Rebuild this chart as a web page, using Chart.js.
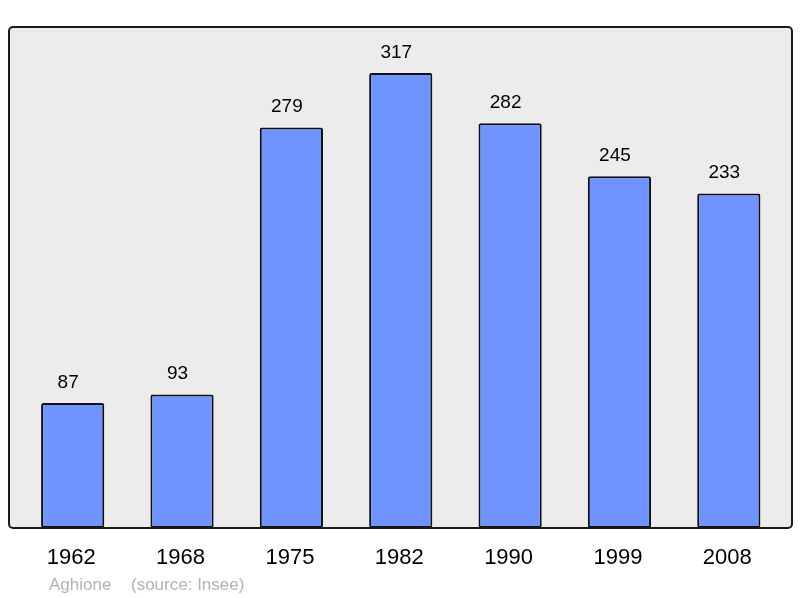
<!DOCTYPE html>
<html><head><meta charset="utf-8">
<script src="https://cdn.jsdelivr.net/npm/chart.js@4/dist/chart.umd.min.js"></script>
<style>html,body{margin:0;padding:0;background:#fff}#wrap{width:800px;height:598px}</style>
</head><body><div id="wrap"><canvas id="c" width="800" height="598"></canvas></div>
<script>
const years = ["1962","1968","1975","1982","1990","1999","2008"];
const population = [87,93,279,317,282,245,233];
const sourceName = "Aghione";
const sourceText = "(source: Insee)";

const FONT = "'Liberation Sans', Arial, sans-serif";

const bgPlugin = {
  id: 'bg',
  beforeDraw(chart) {
    const {ctx, chartArea: a} = chart;
    const x0 = a.left - 9, x1 = a.right + 8.5, y0 = a.top, y1 = a.bottom;
    ctx.save();
    ctx.beginPath();
    ctx.roundRect(x0, y0, x1 - x0, y1 - y0, 4);
    ctx.fillStyle = '#ececec';
    ctx.fill();
    ctx.restore();
  },
  afterDatasetsDraw(chart) {
    const {ctx, chartArea: a, scales} = chart;
    const x0 = a.left - 9, x1 = a.right + 8.5, y0 = a.top, y1 = a.bottom;
    ctx.save();
    ctx.beginPath();
    ctx.roundRect(x0, y0, x1 - x0, y1 - y0, 4);
    ctx.lineWidth = 2;
    ctx.strokeStyle = '#1a1a1a';
    ctx.stroke();
    ctx.fillStyle = '#000';
    ctx.textAlign = 'center';
    ctx.textBaseline = 'middle';
    ctx.font = '19px ' + FONT;
    population.forEach((v, i) => {
      const x = scales.x.getPixelForValue(i);
      const y = scales.y.getPixelForValue(v);
      ctx.fillText(String(v), x - 4.5, y - 20.5);
    });
    ctx.font = '22px ' + FONT;
    years.forEach((t, i) => {
      ctx.fillText(t, scales.x.getPixelForValue(i) - 1.5, a.bottom + 29.5);
    });
    ctx.textAlign = 'left';
    ctx.font = '17px ' + FONT;
    ctx.fillStyle = '#b3b3b3';
    ctx.fillText(sourceName, 49, a.bottom + 57);
    ctx.fillText(sourceText, 131, a.bottom + 57);
    ctx.restore();
  }
};

new Chart(document.getElementById('c'), {
  type: 'bar',
  data: {
    labels: years,
    datasets: [{
      data: population,
      backgroundColor: '#7094ff',
      borderColor: '#111',
      borderWidth: 2,
      borderRadius: 2,
      borderSkipped: false,
      barPercentage: 0.578,
      categoryPercentage: 1
    }]
  },
  options: {
    responsive: false,
    animation: false,
    devicePixelRatio: 1,
    layout: {padding: {left: 18, right: 16.5, top: 27, bottom: 70}},
    plugins: {legend: {display: false}, tooltip: {enabled: false}},
    scales: {
      x: {display: false, offset: true},
      y: {display: false, min: 0, max: 349}
    }
  },
  plugins: [bgPlugin]
});
</script></body></html>
